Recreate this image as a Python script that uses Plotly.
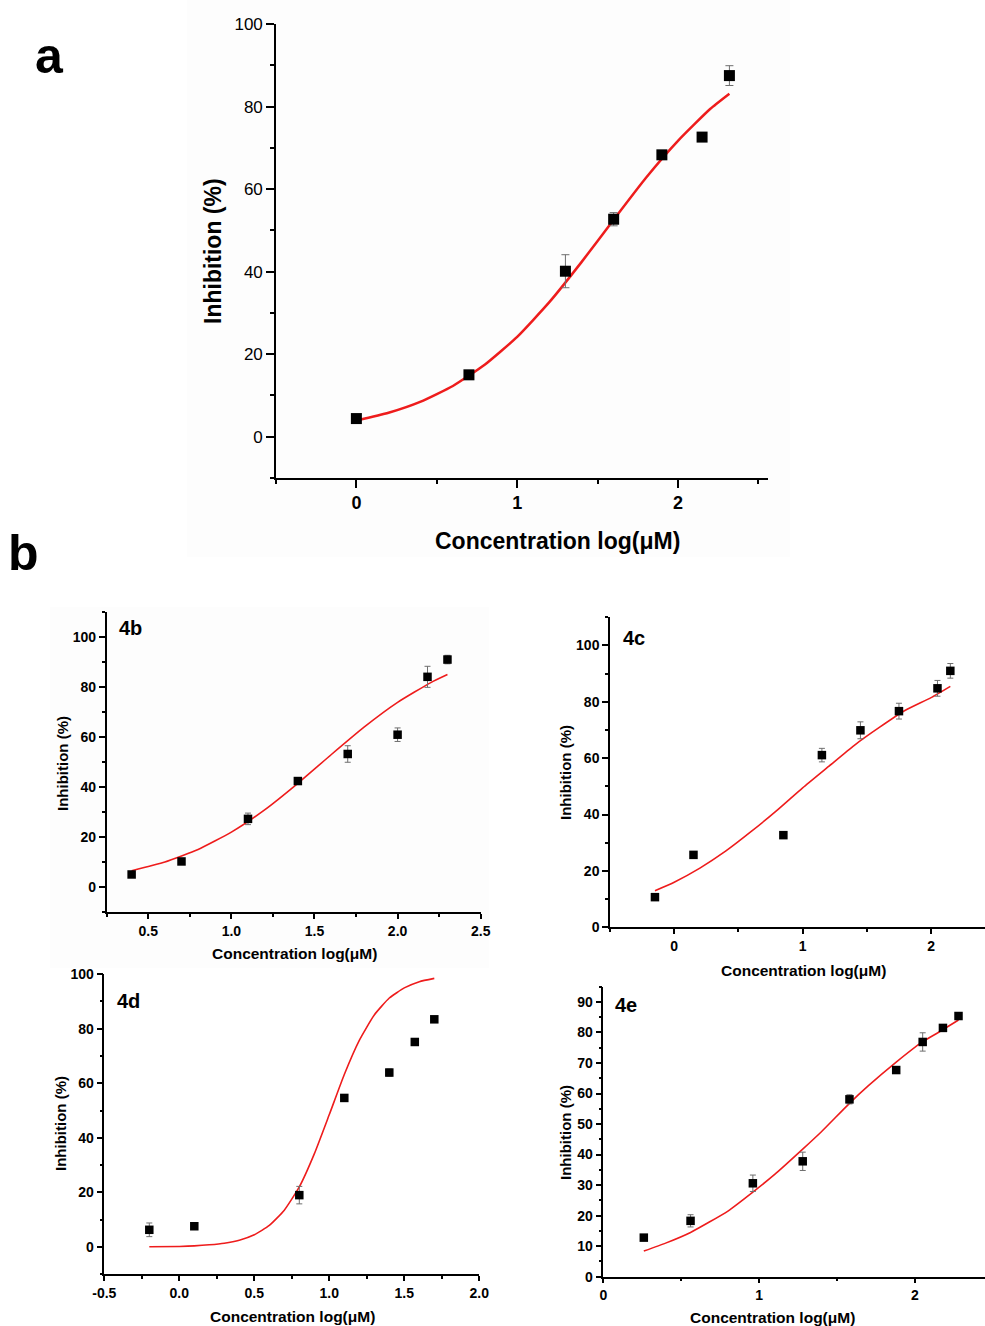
import plotly.graph_objects as go

# ---------------- data ----------------
# Panel a
a_x = [0.0, 0.7, 1.3, 1.6, 1.9, 2.15, 2.32]
a_y = [4.4, 15.0, 40.1, 52.7, 68.3, 72.6, 87.5]
a_err = [0.6, 0.6, 4.0, 1.6, 0.6, 0.6, 2.4]
a_fit_x = [0.0, 0.2, 0.4, 0.6, 0.8, 1.0, 1.2, 1.4, 1.6, 1.8, 2.0, 2.2, 2.32]
a_fit_y = [3.9, 5.8, 8.5, 12.3, 17.5, 24.2, 32.6, 42.3, 52.6, 62.7, 71.7, 79.4, 83.1]

# Panel 4b
b_x = [0.4, 0.7, 1.1, 1.4, 1.7, 2.0, 2.18, 2.3]
b_y = [5.1, 10.3, 27.3, 42.4, 53.2, 60.9, 84.0, 90.9]
b_err = [0.5, 0.5, 2.3, 1.0, 3.3, 2.7, 4.2, 1.7]
b_fit_x = [0.4, 0.6, 0.8, 1.0, 1.2, 1.4, 1.6, 1.8, 2.0, 2.2, 2.3]
b_fit_y = [6.6, 10.1, 15.1, 22.0, 30.9, 41.5, 52.9, 64.0, 73.8, 81.7, 84.9]

# Panel 4c
c_x = [-0.15, 0.15, 0.85, 1.15, 1.45, 1.75, 2.05, 2.15]
c_y = [10.7, 25.7, 32.7, 61.1, 69.9, 76.7, 84.8, 91.0]
c_err = [0.5, 0.5, 0.5, 2.4, 3.0, 2.8, 2.8, 2.6]
c_fit_x = [-0.15, 0.0, 0.2, 0.4, 0.6, 0.8, 1.0, 1.2, 1.4, 1.6, 1.8, 2.0, 2.15]
c_fit_y = [13.0, 16.0, 21.0, 27.0, 34.0, 41.5, 49.5, 57.0, 64.5, 71.0, 77.0, 81.5, 85.5]

# Panel 4d
d_x = [-0.2, 0.1, 0.8, 1.1, 1.4, 1.57, 1.7]
d_y = [6.3, 7.6, 19.0, 54.6, 63.9, 75.1, 83.4]
d_err = [2.5, 0.5, 3.2, 0.5, 1.3, 0.5, 0.5]
d_fit_x = [-0.2, 0.0, 0.1, 0.2, 0.3, 0.4, 0.5, 0.6, 0.7, 0.8, 0.9, 1.0, 1.1, 1.2, 1.3, 1.4, 1.5, 1.6, 1.7]
d_fit_y = [0.1, 0.2, 0.4, 0.8, 1.4, 2.5, 4.5, 7.9, 13.5, 22.0, 34.1, 48.5, 63.2, 75.7, 85.0, 91.2, 94.9, 97.2, 98.4]

# Panel 4e
e_x = [0.26, 0.56, 0.96, 1.28, 1.58, 1.88, 2.05, 2.18, 2.28]
e_y = [12.8, 18.3, 30.6, 37.8, 58.1, 67.7, 76.9, 81.5, 85.4]
e_err = [0.8, 2.0, 2.7, 3.0, 1.5, 0.6, 3.0, 0.6, 1.0]
e_fit_x = [0.26, 0.4, 0.56, 0.8, 0.96, 1.1, 1.28, 1.4, 1.58, 1.7, 1.88, 2.05, 2.15, 2.28]
e_fit_y = [8.4, 11.0, 14.5, 21.5, 27.7, 33.5, 41.8, 47.5, 56.8, 62.5, 70.3, 77.0, 80.0, 84.1]

# tick labels
a_xticks, a_xlabels = [0, 1, 2], ["0", "1", "2"]
a_yticks, a_ylabels = [0, 20, 40, 60, 80, 100], ["0", "20", "40", "60", "80", "100"]
b_xticks, b_xlabels = [0.5, 1.0, 1.5, 2.0, 2.5], ["0.5", "1.0", "1.5", "2.0", "2.5"]
c_xticks, c_xlabels = [0, 1, 2], ["0", "1", "2"]
d_xticks, d_xlabels = [-0.5, 0.0, 0.5, 1.0, 1.5, 2.0], ["-0.5", "0.0", "0.5", "1.0", "1.5", "2.0"]
e_xticks, e_xlabels = [0, 1, 2], ["0", "1", "2"]
bcd_yticks, bcd_ylabels = [0, 20, 40, 60, 80, 100], ["0", "20", "40", "60", "80", "100"]
e_yticks = [0, 10, 20, 30, 40, 50, 60, 70, 80, 90]
e_ylabels = [str(v) for v in e_yticks]

W, H = 985, 1326
FONT = "Liberation Sans, Arial, sans-serif"
RED = "#ee1c1c"


def px(x):
    return x / W


def py(y):
    return 1 - y / H


fig = go.Figure()


def add_panel(i, xs, ys, errs, fx, fy, msize, lw, ewidth):
    xa = "x" if i == 1 else f"x{i}"
    ya = "y" if i == 1 else f"y{i}"
    fig.add_trace(go.Scatter(x=fx, y=fy, mode="lines", line=dict(color=RED, width=lw, shape="spline", smoothing=0.5),
                             xaxis=xa, yaxis=ya, showlegend=False, hoverinfo="skip", cliponaxis=False))
    fig.add_trace(go.Scatter(x=xs, y=ys, mode="markers",
                             marker=dict(symbol="square", size=msize, color="black"),
                             error_y=dict(type="data", array=errs, color="#6e6e6e", thickness=1, width=ewidth),
                             xaxis=xa, yaxis=ya, showlegend=False, cliponaxis=False))


add_panel(1, a_x, a_y, a_err, a_fit_x, a_fit_y, 11, 2.5, 4)
add_panel(2, b_x, b_y, b_err, b_fit_x, b_fit_y, 8.5, 1.6, 3)
add_panel(3, c_x, c_y, c_err, c_fit_x, c_fit_y, 8.5, 1.6, 3)
add_panel(4, d_x, d_y, d_err, d_fit_x, d_fit_y, 8.5, 1.6, 3)
add_panel(5, e_x, e_y, e_err, e_fit_x, e_fit_y, 8.5, 1.6, 3)


def axis(domain, rng, tickvals, ticktext, minor_dtick, minor_tick0, font, ticklen, mticklen, anchor, lw):
    return dict(domain=domain, range=rng, tickmode="array", tickvals=tickvals, ticktext=ticktext,
                showline=True, linecolor="black", linewidth=lw, ticks="outside", ticklen=ticklen,
                tickwidth=lw, tickcolor="black", showgrid=False, zeroline=False, tickfont=font,
                anchor=anchor, fixedrange=True, automargin=False,
                minor=dict(tickmode="linear", tick0=minor_tick0, dtick=minor_dtick, ticks="outside",
                           ticklen=mticklen, tickwidth=lw, tickcolor="black", showgrid=False))


fa_reg = dict(family=FONT, size=17, color="black")
fa_bold = dict(family=FONT, size=18, color="black", weight="bold")
fb = dict(family=FONT, size=14, color="black", weight="bold")

layout = dict(
    width=W, height=H, margin=dict(l=0, r=0, t=0, b=0, autoexpand=False),
    paper_bgcolor="white", plot_bgcolor="rgba(0,0,0,0)", showlegend=False,
    xaxis=axis([px(276), px(768)], [-0.5, 2.56], a_xticks, a_xlabels, 0.5, -0.5, fa_bold, 8, 4, "y", 1.6),
    yaxis=axis([py(478), py(24)], [-10, 100], a_yticks, a_ylabels, 10, -10, fa_reg, 8, 4, "x", 1.6),
    xaxis2=axis([px(106.7), px(480.7)], [0.25, 2.5], b_xticks, b_xlabels, 0.25, 0.25, fb, 5, 3, "y2", 1.5),
    yaxis2=axis([py(912.3), py(611.7)], [-10, 110], bcd_yticks, bcd_ylabels, 10, -10, fb, 6, 3, "x2", 1.5),
    xaxis3=axis([px(610), 1.0], [-0.5, 2.42], c_xticks, c_xlabels, 0.5, -0.5, fb, 5, 3, "y3", 1.5),
    yaxis3=axis([py(927.3), py(617.3)], [0, 110], bcd_yticks, bcd_ylabels, 10, 0, fb, 6, 3, "x3", 1.5),
    xaxis4=axis([px(104.3), px(479.3)], [-0.5, 2.0], d_xticks, d_xlabels, 0.25, -0.5, fb, 5, 3, "y4", 1.5),
    yaxis4=axis([py(1274.3), py(974)], [-10, 100], bcd_yticks, bcd_ylabels, 10, -10, fb, 6, 3, "x4", 1.5),
    xaxis5=axis([px(603.3), 1.0], [0, 2.45], e_xticks, e_xlabels, 0.5, 0, fb, 5, 3, "y5", 1.5),
    yaxis5=axis([py(1276.7), py(986.7)], [0, 95], e_yticks, e_ylabels, 5, 0, fb, 6, 3, "x5", 1.5),
)
fig.update_layout(**layout)

# faint panel backgrounds
fig.add_shape(type="rect", xref="paper", yref="paper", x0=px(187), x1=px(790), y0=py(557), y1=py(0),
              fillcolor="#fdfdfd", line=dict(width=0), layer="below")
fig.add_shape(type="rect", xref="paper", yref="paper", x0=px(50), x1=px(489), y0=py(968), y1=py(607),
              fillcolor="#fdfdfd", line=dict(width=0), layer="below")


def txt(x, y, s, size, rot=0, bold=True):
    fig.add_annotation(x=px(x), y=py(y), xref="paper", yref="paper", text=s, showarrow=False,
                       textangle=rot, xanchor="center", yanchor="middle",
                       font=dict(family=FONT, size=size, color="black", weight="bold" if bold else "normal"))


# panel labels
txt(49, 56, "a", 50)
txt(23, 553, "b", 50)
txt(130, 628, "4b", 20)
txt(634, 638, "4c", 20)
txt(128, 1001, "4d", 20)
txt(626, 1005, "4e", 20)

# axis titles
txt(557, 541, "Concentration log(μM)", 23)
txt(213, 251, "Inhibition (%)", 23, rot=-90)
txt(294, 953, "Concentration log(μM)", 15.5)
txt(63, 764, "Inhibition (%)", 15, rot=-90)
txt(803, 971, "Concentration log(μM)", 15.5)
txt(565, 773, "Inhibition (%)", 15, rot=-90)
txt(292, 1316, "Concentration log(μM)", 15.5)
txt(60, 1124, "Inhibition (%)", 15, rot=-90)
txt(772, 1317, "Concentration log(μM)", 15.5)
txt(565, 1133, "Inhibition (%)", 15, rot=-90)

fig.write_html("out.html")
